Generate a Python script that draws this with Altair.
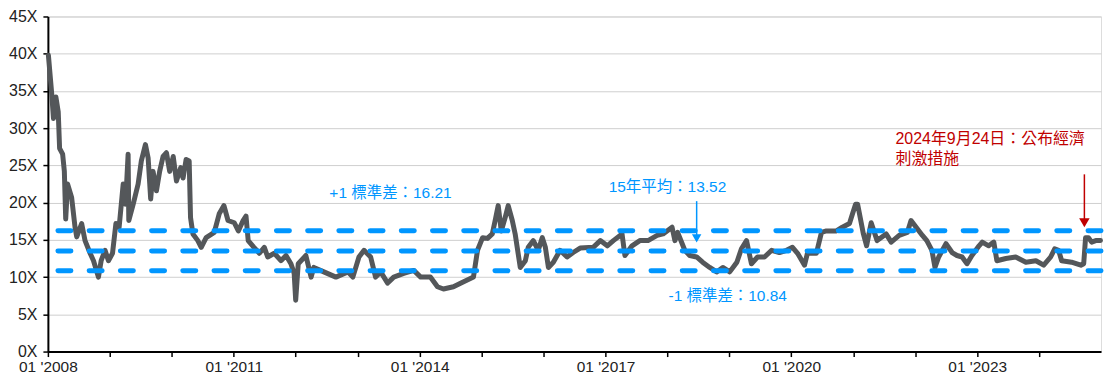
import altair as alt
import pandas as pd

# ---- series ----
dates = [
    "2008-01-04", "2008-01-24", "2008-02-03", "2008-02-17", "2008-03-02", "2008-03-10", "2008-03-28",
    "2008-04-07", "2008-04-15", "2008-04-26", "2008-05-20", "2008-06-09", "2008-06-19", "2008-07-18",
    "2008-08-07", "2008-09-06", "2008-09-26", "2008-10-25", "2008-11-10", "2008-12-03", "2008-12-23",
    "2009-01-16", "2009-02-05", "2009-02-24", "2009-03-20", "2009-04-03", "2009-04-18", "2009-04-22",
    "2009-05-18", "2009-06-16", "2009-07-05", "2009-07-29", "2009-08-14", "2009-08-29", "2009-09-12",
    "2009-10-02", "2009-10-21", "2009-11-10", "2009-11-30", "2009-12-19", "2010-01-09", "2010-01-28",
    "2010-02-22", "2010-03-08", "2010-03-26", "2010-04-13", "2010-04-21", "2010-05-05", "2010-06-03",
    "2010-06-23", "2010-07-22", "2010-09-08", "2010-10-07", "2010-11-04", "2010-11-28", "2011-01-04",
    "2011-01-28", "2011-02-25", "2011-03-14", "2011-03-27", "2011-04-30", "2011-06-01", "2011-06-30",
    "2011-07-20", "2011-08-28", "2011-10-06", "2011-11-05", "2011-12-04", "2011-12-23", "2012-01-01",
    "2012-01-16", "2012-03-01", "2012-04-01", "2012-04-17", "2012-06-15", "2012-08-25", "2012-11-04",
    "2012-12-03", "2013-01-08", "2013-02-07", "2013-03-18", "2013-04-16", "2013-05-16", "2013-06-26",
    "2013-08-01", "2013-09-29", "2013-11-27", "2014-01-07", "2014-03-05", "2014-04-16", "2014-05-21",
    "2014-07-19", "2014-09-11", "2014-10-27", "2014-11-14", "2014-12-08", "2015-01-07", "2015-02-05",
    "2015-03-05", "2015-03-22", "2015-04-09", "2015-04-27", "2015-05-20", "2015-06-07", "2015-07-01",
    "2015-07-18", "2015-07-30", "2015-08-17", "2015-09-16", "2015-10-03", "2015-11-02", "2015-12-01",
    "2015-12-25", "2016-01-12", "2016-01-30", "2016-02-28", "2016-04-08", "2016-05-19", "2016-06-24",
    "2016-08-04", "2016-10-20", "2016-12-01", "2017-01-11", "2017-02-16", "2017-04-08", "2017-04-25",
    "2017-06-06", "2017-07-22", "2017-09-08", "2017-11-01", "2017-12-06", "2018-01-28", "2018-02-14",
    "2018-03-02", "2018-04-13", "2018-05-12", "2018-06-22", "2018-07-27", "2018-09-07", "2018-10-18",
    "2018-11-23", "2019-01-03", "2019-02-14", "2019-03-13", "2019-04-12", "2019-05-11", "2019-06-16",
    "2019-07-27", "2019-09-07", "2019-10-23", "2019-12-04", "2020-01-08", "2020-02-07", "2020-03-19",
    "2020-04-05", "2020-05-28", "2020-06-27", "2020-07-26", "2020-09-23", "2020-10-28", "2020-12-09",
    "2020-12-27", "2021-01-14", "2021-01-26", "2021-03-01", "2021-03-20", "2021-04-16", "2021-05-21",
    "2021-07-13", "2021-08-12", "2021-09-28", "2021-11-15", "2021-12-07", "2022-01-06", "2022-02-12",
    "2022-03-10", "2022-04-09", "2022-04-27", "2022-05-19", "2022-07-01", "2022-08-06", "2022-09-04",
    "2022-10-04", "2022-11-02", "2022-12-01", "2023-01-12", "2023-01-31", "2023-03-10", "2023-04-09",
    "2023-04-27", "2023-06-19", "2023-08-16", "2023-10-15", "2023-12-13", "2024-01-28", "2024-03-09",
    "2024-04-02", "2024-04-25", "2024-05-13", "2024-07-10", "2024-09-03", "2024-09-20", "2024-10-01",
    "2024-10-18", "2024-11-06", "2024-11-30", "2024-12-28",
]
values = [
    39.8, 34.5, 31.3, 34.2, 32.2, 27.3, 26.5,
    24.2, 17.8, 22.5, 20.7, 16.7, 15.4, 17.2,
    14.9, 13.2, 12.2, 10.0, 12.2, 13.6, 12.2,
    13.2, 17.2, 16.7, 22.5, 19.8, 26.5, 17.6,
    19.8, 22.5, 25.6, 27.8, 26.0, 20.5, 24.2,
    21.6, 24.2, 26.2, 26.7, 24.2, 26.2, 22.9,
    24.7, 23.3, 25.8, 25.6, 18.0, 15.8, 14.9,
    14.0, 15.3, 16.0, 18.5, 19.6, 17.6, 17.3,
    16.2, 17.6, 18.2, 14.9, 14.0, 13.2, 14.0,
    12.7, 13.2, 12.2, 12.9, 11.8, 10.5, 6.9,
    11.8, 12.9, 10.0, 11.3, 10.7, 10.0, 10.7,
    10.0, 12.7, 13.6, 12.7, 10.0, 10.7, 9.2,
    10.0, 10.5, 10.9, 10.0, 10.0, 8.7, 8.4,
    8.7, 9.3, 9.8, 10.0, 13.6, 15.3, 15.2,
    15.8, 17.6, 19.6, 16.2, 18.0, 19.6, 17.6,
    15.8, 14.0, 11.3, 12.2, 14.0, 14.9, 13.6,
    15.3, 14.0, 11.3, 12.0, 13.6, 12.7, 13.3,
    13.9, 14.0, 14.9, 14.2, 14.9, 15.8, 12.9,
    14.2, 14.9, 14.9, 15.6, 15.8, 16.7, 14.9,
    16.0, 13.6, 12.9, 12.7, 12.0, 11.3, 10.7,
    11.3, 10.7, 12.0, 13.8, 14.9, 11.8, 12.7,
    12.7, 13.6, 13.3, 13.6, 14.0, 13.2, 11.6,
    13.2, 13.2, 16.0, 16.2, 16.2, 16.7, 17.2,
    18.5, 19.8, 19.8, 15.8, 14.2, 17.3, 14.9,
    15.8, 14.7, 15.6, 16.0, 17.6, 16.7, 15.6,
    14.9, 13.6, 11.3, 12.7, 14.5, 13.3, 12.9,
    12.7, 11.8, 12.9, 14.2, 14.7, 14.2, 14.7,
    12.2, 12.5, 12.7, 12.0, 12.2, 11.6, 12.7,
    13.8, 13.6, 12.2, 12.0, 11.6, 11.8, 15.3,
    15.3, 14.7, 14.9, 14.9,
]

# ---- reference levels ----
level_names = ["+1 標準差", "15年平均", "-1 標準差"]
level_values = [16.21, 13.52, 10.84]

# ---- axis ticks ----
y_ticks = [0, 5, 10, 15, 20, 25, 30, 35, 40, 45]
tick_years = list(range(2008, 2025))

# ---- annotation texts ----
blue_labels = ["+1 標準差：16.21", "15年平均：13.52", "-1 標準差：10.84"]
blue_label_dates = ["2013-07-13", "2018-01-01", "2018-12-22"]
blue_label_values = [21.3, 22.1, 7.5]

red_labels = ["2024年9月24日：公布經濟", "刺激措施"]
red_label_dates = ["2021-09-06", "2021-09-06"]
red_label_values = [28.6, 25.8]

blue_arrow_date = "2018-06-22"
blue_arrow_from, blue_arrow_to = 20.2, 15.2
red_arrow_date = "2024-09-24"
red_arrow_from, red_arrow_to = 23.8, 17.3

BLUE = "#0096FF"
RED = "#C00000"
LINE = "#54575A"
CJK = "Liberation Sans, Arial, Noto Sans CJK TC"

df = pd.DataFrame({"date": pd.to_datetime(dates), "value": values})
lv = pd.DataFrame({"name": level_names, "value": level_values})
bl = pd.DataFrame({"text": blue_labels, "date": pd.to_datetime(blue_label_dates), "value": blue_label_values})
rl = pd.DataFrame({"text": red_labels, "date": pd.to_datetime(red_label_dates), "value": red_label_values})
ba = pd.DataFrame({"date": pd.to_datetime([blue_arrow_date]), "v1": [blue_arrow_from], "v2": [blue_arrow_to]})
ra = pd.DataFrame({"date": pd.to_datetime([red_arrow_date]), "v1": [red_arrow_from], "v2": [red_arrow_to]})

xscale = alt.Scale(domain=[alt.DateTime(year=2008, month=1, date=1),
                           alt.DateTime(year=2024, month=12, date=31)])
yscale = alt.Scale(domain=[0, 45], nice=False)

x_axis = alt.Axis(
    values=[alt.DateTime(year=y, month=1, date=1) for y in tick_years],
    labelExpr='year(datum.value) % 3 == 1 ? "01 \'" + year(datum.value) : ""',
    labelFlush=False, labelOverlap=False, grid=False, title=None,
    domainColor="black", domainWidth=2, tickColor="black", tickWidth=1.5, tickSize=5,
    labelFont="Liberation Sans", labelFontSize=15.5, labelColor="#222222", labelPadding=3,
)
y_axis = alt.Axis(
    values=y_ticks,
    labelExpr='datum.value + "X"',
    labelOverlap=False, labelFlush=False,
    grid=True, gridColor="#CFCFCF", gridWidth=1, title=None,
    domainColor="black", domainWidth=2, tickColor="black", tickWidth=1.5, tickSize=5,
    labelFont="Liberation Sans", labelFontSize=16, labelColor="#222222", labelPadding=6,
)

def X(field="date"):
    return alt.X(f"{field}:T", scale=xscale, axis=x_axis)

def Y(field="value"):
    return alt.Y(f"{field}:Q", scale=yscale, axis=y_axis)

line = alt.Chart(df).mark_line(color=LINE, strokeWidth=5, strokeJoin="round", strokeCap="round").encode(
    x=X(), y=Y(),
)

levels = alt.Chart(lv).mark_rule(color=BLUE, strokeWidth=5, strokeDash=[13, 18.3], strokeCap="round").encode(
    y=Y(),
)

blue_text = alt.Chart(bl).mark_text(color=BLUE, font=CJK, fontSize=15.5, align="center", baseline="middle").encode(
    x=X(), y=Y(), text="text:N",
)
red_text = alt.Chart(rl).mark_text(color=RED, font=CJK, fontSize=16, align="left", baseline="middle").encode(
    x=X(), y=Y(), text="text:N",
)

blue_shaft = alt.Chart(ba).mark_rule(color=BLUE, strokeWidth=1.5).encode(x=X(), y=Y("v1"), y2="v2:Q")
blue_head = alt.Chart(ba).mark_point(shape="triangle-down", filled=True, color=BLUE, size=90, opacity=1).encode(
    x=X(), y=Y("v2"),
)
red_shaft = alt.Chart(ra).mark_rule(color=RED, strokeWidth=1.5).encode(x=X(), y=Y("v1"), y2="v2:Q")
red_head = alt.Chart(ra).mark_point(shape="triangle-down", filled=True, color=RED, size=110, opacity=1).encode(
    x=X(), y=Y("v2"),
)

chart = alt.layer(line, levels, blue_text, red_text, blue_shaft, blue_head, red_shaft, red_head).properties(
    width=1056, height=336,
    padding={"left": 0, "top": 0, "right": 0, "bottom": 0},
).configure_view(stroke=None).configure(background="white")

chart.save("out.html", embed_options={"renderer": "svg", "actions": False})
